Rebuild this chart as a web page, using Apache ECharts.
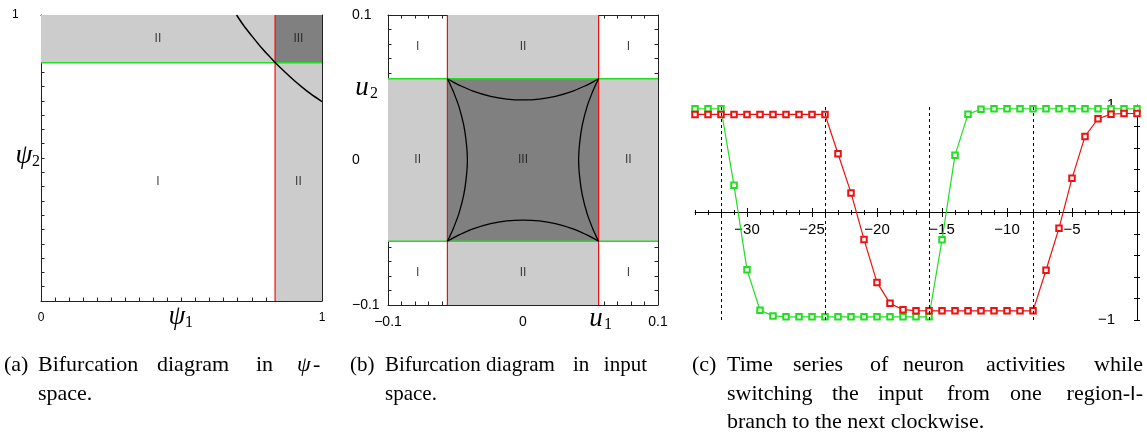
<!DOCTYPE html>
<html>
<head>
<meta charset="utf-8">
<script src="https://cdn.jsdelivr.net/npm/echarts@6/dist/echarts.min.js"></script>
<style>html,body{margin:0;padding:0;background:#fff}#chart{width:1147px;height:437px}</style>
</head>
<body>
<div id="chart"></div>
<script>
// (a) bifurcation diagram in psi-space
var psiCut = 0.833;
var psiCurve = [[0.696,1],[0.72,0.965],[0.75,0.927],[0.78,0.891],[0.81,0.858],[0.833,0.834],[0.87,0.799],[0.9,0.772],[0.93,0.747],[0.96,0.724],[1,0.697]];
var psiRegions = [['II',0.416,0.916],['III',0.916,0.916],['I',0.416,0.416],['II',0.916,0.416]];
var psiTickLabelsX = [0, 1];
var psiTickLabelsY = [1];

// (b) bifurcation diagram in input space
var uCut = 0.056;
var arcTop = [[-0.056,0.056],[-0.052,0.0539],[-0.047,0.0515],[-0.037,0.0475],[-0.024,0.0439],[-0.012,0.042],[0,0.0414],[0.012,0.042],[0.024,0.0439],[0.037,0.0475],[0.047,0.0515],[0.052,0.0539],[0.056,0.056]];
var arcBottom = [[-0.056,-0.056],[-0.052,-0.0539],[-0.047,-0.0515],[-0.037,-0.0475],[-0.024,-0.0439],[-0.012,-0.042],[0,-0.0414],[0.012,-0.042],[0.024,-0.0439],[0.037,-0.0475],[0.047,-0.0515],[0.052,-0.0539],[0.056,-0.056]];
var arcLeft = [[-0.056,-0.056],[-0.0539,-0.052],[-0.0515,-0.047],[-0.0475,-0.037],[-0.0439,-0.024],[-0.042,-0.012],[-0.0412,0],[-0.042,0.012],[-0.0439,0.024],[-0.0475,0.037],[-0.0515,0.047],[-0.0539,0.052],[-0.056,0.056]];
var arcRight = [[0.056,-0.056],[0.0539,-0.052],[0.0515,-0.047],[0.0475,-0.037],[0.0439,-0.024],[0.042,-0.012],[0.0412,0],[0.042,0.012],[0.0439,0.024],[0.0475,0.037],[0.0515,0.047],[0.0539,0.052],[0.056,0.056]];
var uRegions = [['I',-0.078,0.078],['II',0,0.078],['I',0.078,0.078],
                ['II',-0.078,0],['III',0,0],['II',0.078,0],
                ['I',-0.078,-0.078],['II',0,-0.078],['I',0.078,-0.078]];
var uTickLabels = [-0.1, 0, 0.1];

// (c) time series
var steps = [-34,-33,-32,-31,-30,-29,-28,-27,-26,-25,-24,-23,-22,-21,-20,-19,-18,-17,-16,-15,-14,-13,-12,-11,-10,-9,-8,-7,-6,-5,-4,-3,-2,-1,0];
var greenAct = [0.965,0.965,0.965,0.253,-0.532,-0.909,-0.962,-0.97,-0.97,-0.97,-0.97,-0.97,-0.97,-0.97,-0.97,-0.97,-0.97,-0.97,-0.97,-0.254,0.532,0.915,0.961,0.965,0.965,0.965,0.965,0.965,0.965,0.965,0.965,0.965,0.965,0.965,0.965];
var redAct = [0.912,0.912,0.912,0.912,0.912,0.912,0.912,0.912,0.912,0.912,0.912,0.547,0.182,-0.25,-0.65,-0.845,-0.904,-0.913,-0.915,-0.915,-0.915,-0.915,-0.915,-0.915,-0.915,-0.915,-0.915,-0.537,-0.146,0.318,0.708,0.872,0.915,0.921,0.921];
var switchTimes = [-32, -24, -16, -8];
var timeTickLabels = [-30, -25, -20, -15, -10, -5];
var actTickLabels = [-1, 1];

var sans = '"Liberation Sans", Arial, sans-serif';
var serif = '"Liberation Serif", "Times New Roman", serif';
var GREEN = '#22dd22', RED = '#ee1111', LIGHT = '#cccccc', DARK = '#808080';
// panel (c): half height of the plot box, used to put the axes through zero
var HALF_C = 107.5, WIDTH_C = 442;

function minus(v) { return String(v).replace('-', '\u2212'); }

function boxAxis(grid, pos, min, max, step, labels, size, margin, align) {
  var ax = {
    type: 'value', gridIndex: grid, position: pos, min: min, max: max, interval: step,
    axisLine: {onZero: false, lineStyle: {color: '#222', width: 1}},
    axisTick: {inside: true, length: 3.5, lineStyle: {color: '#222'}},
    splitLine: {show: false},
    axisLabel: {show: false}
  };
  if (labels) {
    ax.axisLabel = {customValues: labels, formatter: minus, fontSize: size, color: '#000',
                    fontFamily: sans, margin: margin};
    if (align) ax.axisLabel.align = align;
  }
  return ax;
}

// x axes of (c) sit on y = 0 through an offset (top and bottom give ticks both ways)
function timeAxis(pos, opts) {
  var ax = {
    type: 'value', gridIndex: 2, position: pos, offset: -HALF_C, min: -34, max: 0, interval: 1,
    axisLine: {onZero: false, show: !!opts.line, lineStyle: {color: '#000'}},
    axisTick: {length: opts.len, lineStyle: {color: '#000'}},
    splitLine: {show: false},
    axisLabel: {show: false}
  };
  if (opts.major) ax.axisTick.customValues = timeTickLabels;
  if (opts.labels) ax.axisLabel = {customValues: timeTickLabels, formatter: minus, fontSize: 15,
                                   color: '#000', fontFamily: sans, margin: 10};
  return ax;
}

function actAxis(pos, opts) {
  var ax = {
    type: 'value', gridIndex: 2, position: pos, offset: pos === 'left' ? -WIDTH_C : 0,
    min: -1, max: 1, interval: 0.2,
    axisLine: {onZero: false, show: !!opts.line, lineStyle: {color: '#000'}},
    axisTick: {length: 3, lineStyle: {color: '#000'}},
    splitLine: {show: false},
    axisLabel: {show: false}
  };
  if (opts.labels) ax.axisLabel = {customValues: actTickLabels, formatter: minus, fontSize: 15,
                                   color: '#000', fontFamily: sans, margin: 22};
  return ax;
}

function area(x1, y1, x2, y2, color) {
  return [{coord: [x1, y1], itemStyle: {color: color, opacity: 1}}, {coord: [x2, y2]}];
}

function plainLine(xi, data, color, width, z) {
  return {type: 'line', xAxisIndex: xi, yAxisIndex: xi, data: data, showSymbol: false,
          lineStyle: {color: color, width: width}, z: z, silent: true};
}

function arc(data) {
  return {type: 'line', xAxisIndex: 2, yAxisIndex: 2, data: data, smooth: 0.3, showSymbol: false,
          lineStyle: {color: '#000', width: 1.3}, z: 4, silent: true};
}

function regionLabels(xi, list) {
  return {type: 'scatter', xAxisIndex: xi, yAxisIndex: xi, symbolSize: 1, z: 6, silent: true,
          itemStyle: {color: 'rgba(0,0,0,0)'},
          label: {show: true, position: 'inside', formatter: '{b}', fontSize: 12, color: '#111', fontFamily: sans},
          data: list.map(function (r) { return {name: r[0], value: [r[1], r[2]]}; })};
}

function mathText(sym, sub, x, y) {
  return [
    {type: 'text', x: x, y: y, style: {text: sym, font: 'italic 27px ' + serif, fill: '#000', align: 'center', verticalAlign: 'middle'}},
    {type: 'text', x: x + 8, y: y + 6, style: {text: sub, font: '16px ' + serif, fill: '#000', align: 'left', verticalAlign: 'middle'}}
  ];
}

function word(text, x, y, align, size) {
  return {type: 'text', x: x, y: y, style: {text: text, font: (size || 22) + 'px ' + serif, fill: '#000', align: align || 'left', verticalAlign: 'middle'}};
}

var captions = [
  word('(a)', 4, 365), word('Bifurcation', 38, 365), word('diagram', 157, 365), word('in', 256, 365),
  {type: 'text', x: 297, y: 365, style: {text: 'ψ', font: 'italic 22px ' + serif, fill: '#000', verticalAlign: 'middle'}},
  word('-', 313, 365),
  word('space.', 38, 394),
  word('(b)', 350, 365, 'left', 21), word('Bifurcation', 385, 365, 'left', 21), word('diagram', 486, 365, 'left', 21),
  word('in', 573, 365, 'left', 21), word('input', 647, 365, 'right', 21),
  word('space.', 385, 394, 'left', 21),
  word('(c)', 692, 365), word('Time', 727, 365), word('series', 793, 365), word('of', 870, 365),
  word('neuron', 903, 365), word('activities', 986, 365), word('while', 1143, 365, 'right'),
  word('switching', 727, 394), word('the', 832, 394), word('input', 878, 394), word('from', 947, 394),
  word('one', 1010, 394),
  {type: 'text', x: 1143, y: 394, style: {text: '{s|region-}{t|I}{s|-}', align: 'right', verticalAlign: 'middle',
    rich: {s: {font: '22px ' + serif, fill: '#000'}, t: {font: '20px ' + sans, fill: '#000'}}}},
  word('branch to the next clockwise.', 727, 422)
];

var chart = echarts.init(document.getElementById('chart'));
chart.setOption({
  animation: false,
  backgroundColor: '#fff',
  grid: [
    {left: 41, top: 15, width: 281, height: 286, containLabel: false, outerBoundsMode: 'none'},
    {left: 388, top: 15, width: 270, height: 290, containLabel: false, outerBoundsMode: 'none'},
    {left: 695, top: 105, width: WIDTH_C, height: 2 * HALF_C, containLabel: false, outerBoundsMode: 'none'}
  ],
  xAxis: [
    boxAxis(0, 'bottom', 0, 1, 0.05, psiTickLabelsX, 12, 11),
    boxAxis(0, 'top', 0, 1, 0.05),
    boxAxis(1, 'bottom', -0.1, 0.1, 0.01, uTickLabels, 14, 10),
    boxAxis(1, 'top', -0.1, 0.1, 0.01),
    timeAxis('bottom', {line: true, labels: true, len: 2.5}),
    timeAxis('top', {len: 2.5}),
    timeAxis('bottom', {major: true, len: 4.5}),
    timeAxis('top', {major: true, len: 4.5})
  ],
  yAxis: [
    boxAxis(0, 'left', 0, 1, 0.05, psiTickLabelsY, 12, 29, 'left'),
    boxAxis(0, 'right', 0, 1, 0.05),
    boxAxis(1, 'left', -0.1, 0.1, 0.01, uTickLabels, 14, 36, 'left'),
    boxAxis(1, 'right', -0.1, 0.1, 0.01),
    actAxis('left', {line: true, labels: true}),
    actAxis('right', {})
  ],
  series: [
    // (a)
    {type: 'line', xAxisIndex: 0, yAxisIndex: 0, data: [], z: 1, silent: true,
     markArea: {silent: true, data: [
       area(0, psiCut, 1, 1, LIGHT), area(psiCut, 0, 1, psiCut, LIGHT), area(psiCut, psiCut, 1, 1, DARK)]}},
    plainLine(0, [[psiCut, 0], [psiCut, 1]], RED, 1.2, 3),
    plainLine(0, [[0, psiCut], [1, psiCut]], GREEN, 1.5, 3),
    {type: 'line', xAxisIndex: 0, yAxisIndex: 0, data: psiCurve, smooth: 0.3, showSymbol: false,
     lineStyle: {color: '#000', width: 1.5}, z: 4, silent: true},
    regionLabels(0, psiRegions),
    // (b)
    {type: 'line', xAxisIndex: 2, yAxisIndex: 2, data: [], z: 1, silent: true,
     markArea: {silent: true, data: [
       area(-uCut, -0.1, uCut, 0.1, LIGHT), area(-0.1, -uCut, 0.1, uCut, LIGHT), area(-uCut, -uCut, uCut, uCut, DARK)]}},
    plainLine(2, [[-0.1, uCut], [0.1, uCut]], GREEN, 1.5, 3),
    plainLine(2, [[-0.1, -uCut], [0.1, -uCut]], GREEN, 1.5, 3),
    plainLine(2, [[-uCut, -0.1], [-uCut, 0.1]], RED, 1.2, 3),
    plainLine(2, [[uCut, -0.1], [uCut, 0.1]], RED, 1.2, 3),
    arc(arcTop), arc(arcBottom), arc(arcLeft), arc(arcRight),
    regionLabels(2, uRegions),
    // (c)
    {type: 'line', xAxisIndex: 4, yAxisIndex: 4, z: 3, silent: true,
     data: steps.map(function (t, i) { return [t, greenAct[i]]; }),
     symbol: 'emptyRect', symbolSize: 5.5, showSymbol: true,
     lineStyle: {color: GREEN, width: 1.2}, itemStyle: {color: GREEN, borderColor: GREEN, borderWidth: 1},
     markLine: {silent: true, symbol: ['none', 'none'], label: {show: false},
       lineStyle: {color: '#000', type: [3, 3], width: 1},
       data: switchTimes.map(function (t) { return {xAxis: t}; })}},
    {type: 'line', xAxisIndex: 4, yAxisIndex: 4, z: 3, silent: true,
     data: steps.map(function (t, i) { return [t, redAct[i]]; }),
     symbol: 'emptyRect', symbolSize: 5.5, showSymbol: true,
     lineStyle: {color: RED, width: 1.2}, itemStyle: {color: RED, borderColor: RED, borderWidth: 1}}
  ],
  graphic: [].concat(
    mathText('ψ', '2', 24, 156),
    mathText('ψ', '1', 177, 317),
    mathText('u', '2', 362, 88),
    mathText('u', '1', 596, 319),
    captions
  )
});
</script>
</body>
</html>
